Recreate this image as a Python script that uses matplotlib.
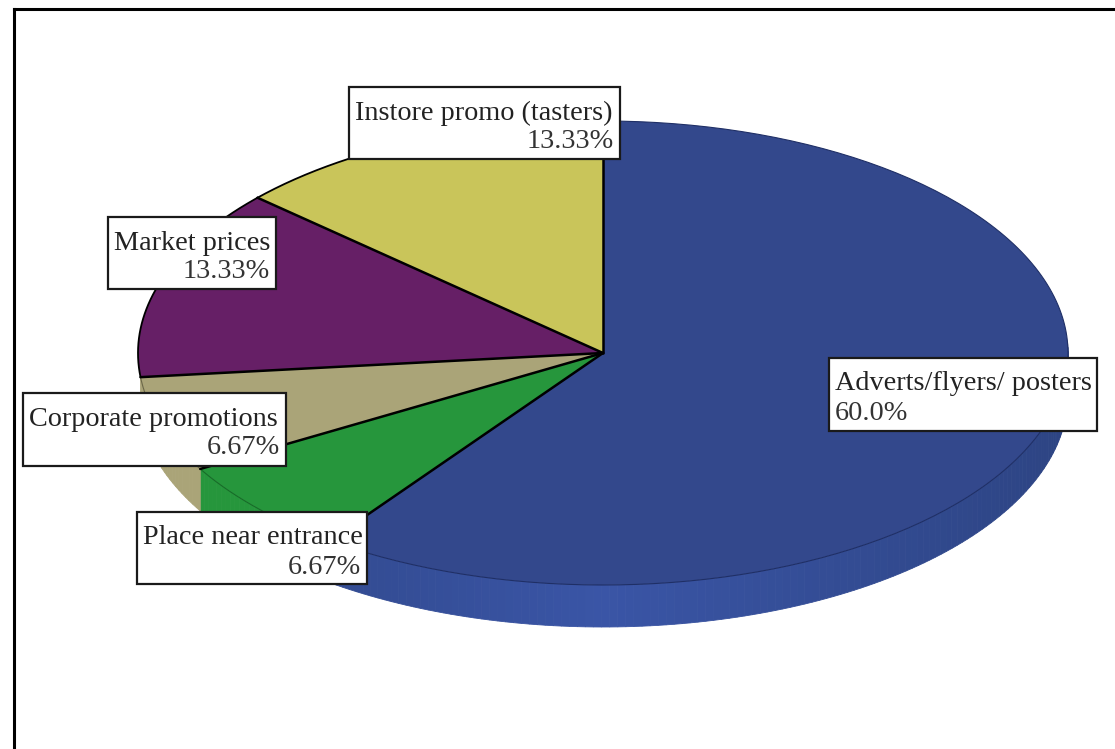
import numpy as np
import matplotlib
matplotlib.use("Agg")
import matplotlib.pyplot as plt
from matplotlib.patches import Rectangle
from matplotlib.transforms import Affine2D

WIDTH, HEIGHT = 1115, 749

categories = ["Adverts/flyers/ posters", "Place near entrance",
              "Corporate promotions", "Market prices",
              "Instore promo (tasters)"]
shares = [60.0, 6.67, 6.67, 13.33, 13.33]
share_labels = ["60.0%", "6.67%", "6.67%", "13.33%", "13.33%"]

top_colors = ["#33488c", "#26963c", "#aaa478", "#661f66", "#c9c55a"]
rim_colors = ["#1f2f66", "#176b28", "#6b6748", "#000000", "#000000"]
side_colors = ["#33488c", "#26963c", "#aaa478", None, None]

# pie centre and radii in pixels, depth of the extruded side
CX, CY = 603, 353
RX, RY = 465, 232
DEPTH = 42 / RY

# label box: left, top, right, bottom in pixels
boxes = [(829, 358, 1097, 431), (137, 512, 367, 584), (23, 393, 286, 466),
         (108, 217, 276, 289), (349, 87, 620, 159)]
FONT_SIZE = 20.3

fig = plt.figure(figsize=(WIDTH / 100, HEIGHT / 100), dpi=100)
ax = fig.add_axes([0, 0, 1, 1])

# pixel space with the origin at the top left
px = Affine2D().scale(1, -1).translate(0, HEIGHT)

edges = 90 - np.cumsum([0] + shares) * 3.6


def rim(deg):
    return np.cos(np.radians(deg)), np.sin(np.radians(deg))


# extruded side first, a strip per degree so the blue can shade towards the front
for i in range(len(shares)):
    if side_colors[i] is None:
        continue
    angles = np.linspace(edges[i], edges[i + 1], int(abs(edges[i] - edges[i + 1])) + 2)
    for a0, a1 in zip(angles[:-1], angles[1:]):
        if np.sin(np.radians((a0 + a1) / 2)) > 0.05:
            continue
        x0, y0 = rim(a0)
        x1, y1 = rim(a1)
        color = side_colors[i]
        if i == 0:
            t = abs(np.cos(np.radians((a0 + a1) / 2)))
            color = tuple((1 - t) * np.array(matplotlib.colors.to_rgb("#3a55a6"))
                          + t * np.array(matplotlib.colors.to_rgb("#2d4483")))
        ax.fill([x0, x1, x1, x0], [y0, y1, y1 - DEPTH, y0 - DEPTH],
                color=color, lw=0.6, zorder=1)

wedges, _ = ax.pie(shares, colors=top_colors, startangle=90, counterclock=False,
                   radius=1, wedgeprops={"linewidth": 0})
for w in wedges:
    w.set_zorder(2)

for i in range(len(shares)):
    angles = np.linspace(edges[i], edges[i + 1], 200)
    xs, ys = rim(angles)
    ax.plot(xs, ys, color=rim_colors[i], lw=1.3 if i >= 3 else 0.8, zorder=3)

# black spokes between the slices
for deg in edges[:-1]:
    x, y = rim(deg)
    ax.plot([0, x], [0, y], color="black", lw=1.8, zorder=4, solid_capstyle="round")

ax.set_aspect("auto")
ax.set_xlim(-CX / RX, (WIDTH - CX) / RX)
ax.set_ylim((CY - HEIGHT) / RY, CY / RY)
ax.axis("off")

# outer frame, only the top and left sides are on the canvas
for xs, ys in [([13.5, 13.5], [9, HEIGHT]), ([13.5, WIDTH], [9, 9])]:
    fig.add_artist(plt.Line2D(xs, ys, transform=px, color="black", lw=2.2))

for i, (left, top, right, bottom) in enumerate(boxes):
    fig.add_artist(Rectangle((left, top), right - left, bottom - top, transform=px,
                             facecolor="white", edgecolor="#1a1a1a", lw=1.6, zorder=5))
    pad = 6
    fig.text(left + pad, top + 26, categories[i], transform=px, family="Liberation Serif",
             fontsize=FONT_SIZE, color="#222222", va="center", ha="left", zorder=6)
    # the largest slice has its percentage on the left, the others on the right
    if i == 0:
        fig.text(left + pad, top + 55, share_labels[i], transform=px, family="Liberation Serif",
                 fontsize=FONT_SIZE, color="#333333", va="center", ha="left", zorder=6)
    else:
        fig.text(right - pad, top + 55, share_labels[i], transform=px, family="Liberation Serif",
                 fontsize=FONT_SIZE, color="#333333", va="center", ha="right", zorder=6)

fig.savefig("out.png", dpi=100)
